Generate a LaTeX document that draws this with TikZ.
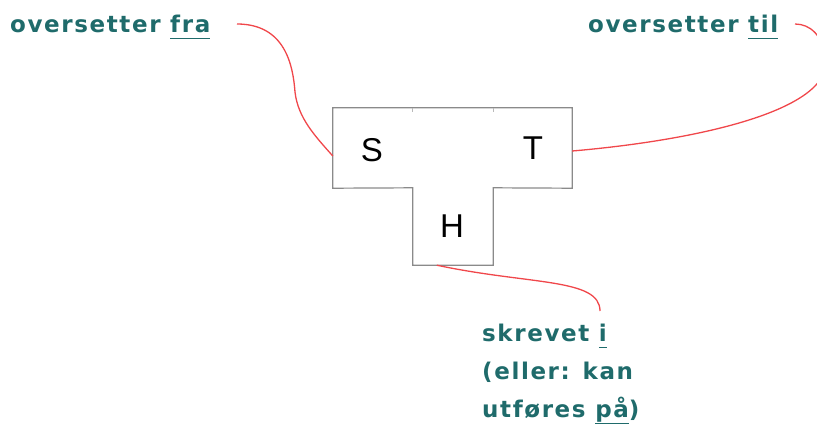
\documentclass[tikz,border=0pt]{standalone}
\usepackage{fontspec}
\setmainfont{DejaVu Sans}
\newfontfamily\lblfont{DejaVu Sans}[LetterSpace=7]
\newfontfamily\cellfont{Liberation Sans}
\usepackage{xcolor}
\definecolor{lbl}{HTML}{1F6B6B}
\definecolor{redl}{HTML}{F0474B}
\definecolor{boxl}{HTML}{8A8A8A}
\newcommand{\ul}[1]{\underline{\smash{#1}\vphantom{g}}}
\begin{document}
\begin{tikzpicture}[x=1pt,y=-1pt,
  lbltext/.style={font=\lblfont\bfseries\fontsize{23}{38}\selectfont, text=lbl, inner sep=0pt},
  cell/.style={minimum width=80pt, minimum height=80pt, inner sep=0pt},
  celltext/.style={font=\cellfont\fontsize{33}{35}\selectfont, inner sep=0pt},
  conn/.style={draw=redl, line width=1.3pt},
  outline/.style={draw=boxl, line width=1.2pt}]
\useasboundingbox (0,0) rectangle (817,426);
\begin{scope}
\clip (0,0) rectangle (817,426);
% cells
\node[cell] (S) at (373,148) {};
\node[cell] (M) at (453,148) {};
\node[cell, minimum width=79pt] (T) at (532.5,148) {};
\node[cell, minimum height=77pt] (H) at (453,226.5) {};
\node[celltext] (Sl) at (372,150) {S};
\node[celltext] (Tl) at (533,148) {T};
\node[celltext] (Hl) at (452,226) {H};
% outline
\draw[outline] (S.north west) -- (T.north east) -- (T.south east) -- (H.north east) -- (H.south east) -- (H.south west) -- (H.north west) -- (S.south west) -- cycle;
\draw[draw=boxl!60, line width=0.8pt] (M.north west) -- ++(0,4);
\draw[draw=boxl!60, line width=0.8pt] (M.north east) -- ++(0,4);
% labels
\node[lbltext, anchor=base west] (fra) at (10,32) {oversetter \ul{fra}};
\node[lbltext, anchor=base west] (til) at (588,32) {oversetter \ul{til}};
\node[lbltext, anchor=base west, align=left] (hl) at (482,417) {skrevet \ul{i}\\(eller: kan\\utføres \ul{på})};
\coordinate (fraend) at (237,24);
\coordinate (tilend) at (795,24);
\coordinate (hend) at (600,311);
% connectors
\draw[conn] (fraend) .. controls (285,24) and (293,65) .. (295,92) .. controls (298,118) and (315,136) .. ([yshift=-8pt]S.west);
\draw[conn] ([yshift=-3pt]T.east) .. controls (700,140) and (830,110) .. (826,60) .. controls (823,35) and (810,24) .. (tilend);
\draw[conn] ([xshift=24pt]H.south west) .. controls (530,285) and (600,278) .. (hend);
\end{scope}
\end{tikzpicture}
\end{document}
